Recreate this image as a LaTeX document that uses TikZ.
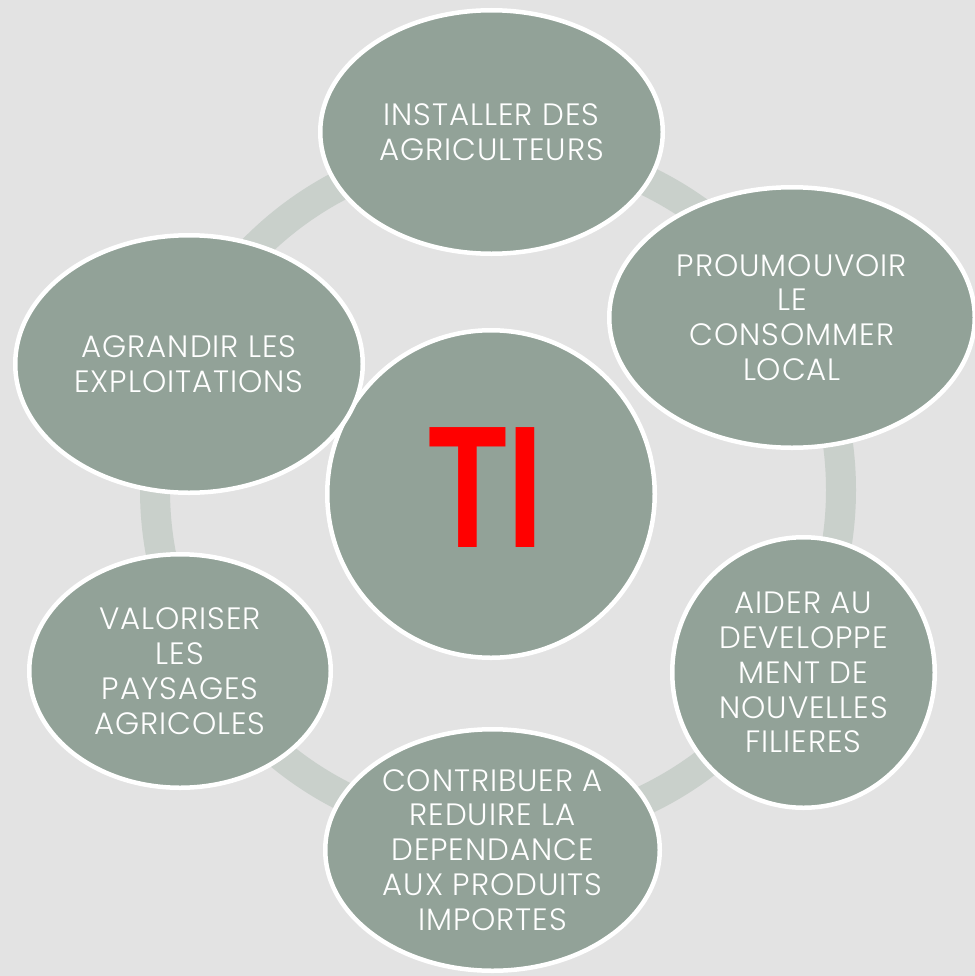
\documentclass[tikz,border=0pt]{standalone}
\usepackage{fontspec}
\newfontfamily\labelfont{Poppins}[UprightFont=* Light, LetterSpace=3]
\newfontfamily\tifont{Liberation Sans}
\usetikzlibrary{shapes.geometric}
\definecolor{bggray}{RGB}{227,227,227}
\definecolor{sage}{RGB}{146,162,152}
\definecolor{ringgray}{RGB}{201,208,203}

\begin{document}
\begin{tikzpicture}[x=1bp, y=-1bp,
		bubble/.style={ellipse, draw=white, line width=4.5bp, fill=sage, inner sep=0pt},
		tag/.style={text=white, align=center, inner sep=0pt, font=\labelfont\fontsize{31}{35}\selectfont}]
			\useasboundingbox[fill=bggray] (0,0) rectangle (975,976);
			\draw[ringgray, line width=30bp] (498,490) circle[radius=343];
			% centre
			\node[bubble, minimum width=327.5bp, minimum height=327.5bp] (hub) at (491,494) {};
			\node[text=red, inner sep=0pt, font=\tifont\bfseries\fontsize{175}{175}\selectfont] (ti) at (486,488) {\scalebox{0.74}[1]{TI}};
			% around
			\node[bubble, minimum width=342.5bp, minimum height=243.5bp,
				label={[tag]center:INSTALLER DES\\AGRICULTEURS}] (installer) at (491.5,132) {};
			\node[bubble, minimum width=365.5bp, minimum height=260.5bp,
				label={[tag]center:PROUMOUVOIR\\LE\\CONSOMMER\\LOCAL}] (local) at (792,317.5) {};
			\node[bubble, minimum width=262.5bp, minimum height=270.5bp,
				label={[tag]center:AIDER AU\\DEVELOPPE\\MENT DE\\NOUVELLES\\FILIERES}] (filieres) at (803.5,672.5) {};
			\node[bubble, minimum width=334.5bp, minimum height=241.5bp,
				label={[tag]center:CONTRIBUER A\\REDUIRE LA\\DEPENDANCE\\AUX PRODUITS\\IMPORTES}] (importes) at (492.5,850) {};
			\node[bubble, minimum width=301.5bp, minimum height=233.5bp,
				label={[tag]center:VALORISER\\LES\\PAYSAGES\\AGRICOLES}] (paysages) at (180,671) {};
			\node[bubble, minimum width=347.5bp, minimum height=257.5bp,
				label={[tag]center:AGRANDIR LES\\EXPLOITATIONS}] (agrandir) at (189,364) {};
		\end{tikzpicture}
\end{document}
